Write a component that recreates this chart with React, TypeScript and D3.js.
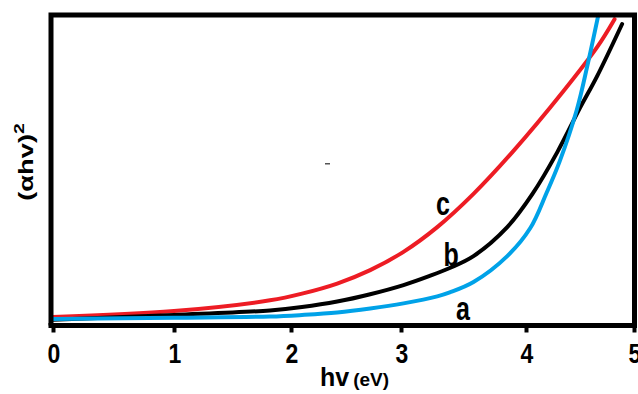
import { useEffect, useRef } from "react";
import * as d3 from "d3";

// hv ticks (eV)
const xTicks = [0, 1, 2, 3, 4, 5];

// curve a (blue)
const aX = [0, 1, 1.82, 2.1, 2.42, 2.72, 3.02, 3.29, 3.39, 3.58, 3.85, 4.04, 4.19, 4.31, 4.47, 4.57, 4.67];
const aY = [1.0, 1.4, 1.8, 2.3, 3.1, 4.4, 6.1, 8.4, 9.7, 13.1, 21.6, 30.8, 42.3, 52.5, 69.5, 84.3, 100.7];

// curve b (black)
const bX = [0, 1, 1.82, 2.1, 2.42, 2.72, 3.02, 3.23, 3.39, 3.58, 3.85, 4.06, 4.29, 4.5, 4.66, 4.89];
const bY = [0.7, 2.3, 3.8, 4.9, 6.7, 9.1, 12.1, 15.1, 17.7, 21.6, 31.1, 42.0, 55.7, 70.2, 80.7, 97.7];

// curve c (red)
const cX = [0, 1, 1.82, 2.1, 2.42, 2.72, 3.02, 3.29, 3.58, 3.9, 4.34, 4.66, 4.82];
const cY = [1.6, 3.6, 7.1, 9.3, 12.6, 17.0, 23.0, 31.1, 42.0, 56.1, 75.4, 90.2, 99.3];

const W = 638;
const H = 394;

const App = () => {
  const ref = useRef<SVGSVGElement | null>(null);

  useEffect(() => {
    const svg = d3.select(ref.current);
    svg.selectAll("*").remove();

    // the original axis is hand drawn, ticks are not evenly spaced
    const x = d3.scaleLinear().domain(xTicks).range([53, 174, 291, 401, 526, 634]);
    const y = d3.scaleLinear().domain([0, 100]).range([322, 17]);
    const axisY = 325.5;
    const font = "'Liberation Sans', Arial, sans-serif";

    svg.append("rect").attr("width", W).attr("height", H).attr("fill", "#fff");

    const line = d3
      .line<[number, number]>()
      .x((d) => x(d[0]))
      .y((d) => y(d[1]))
      .curve(d3.curveCatmullRom.alpha(0.5));

    const series = [
      { xs: cX, ys: cY, color: "#ed1c24" },
      { xs: bX, ys: bY, color: "#000" },
      { xs: aX, ys: aY, color: "#00a2e8" },
    ];

    const gLines = svg
      .append("g")
      .attr("fill", "none")
      .attr("stroke-width", 4)
      .attr("stroke-linecap", "round");
    series.forEach((s) => {
      gLines
        .append("path")
        .attr("d", line(s.xs.map((v, i) => [v, s.ys[i]] as [number, number])))
        .attr("stroke", s.color);
    });

    // frame
    svg
      .append("path")
      .attr("d", `M51,${axisY}V15H634.5V${axisY}`)
      .attr("fill", "none")
      .attr("stroke", "#000")
      .attr("stroke-width", 5);

    // bottom axis
    const gx = svg.append("g").attr("transform", `translate(0,${axisY})`);
    gx.call(d3.axisBottom(x).tickValues(xTicks).tickSize(7).tickFormat(d3.format("d")));
    gx.select(".domain").attr("stroke-width", 5).attr("d", "M48.5,0H637");
    gx.selectAll(".tick line").attr("stroke-width", 4);
    gx.selectAll(".tick text")
      .attr("y", 0)
      .attr("dy", 0)
      .attr("transform", "translate(0.5,37) scale(1,1.22)")
      .attr("font-family", font)
      .attr("font-weight", "bold")
      .attr("font-size", 23)
      .attr("fill", "#000");

    // x label
    const xl = svg
      .append("text")
      .attr("x", 320)
      .attr("y", 386)
      .attr("font-family", font)
      .attr("font-weight", "bold")
      .attr("fill", "#000");
    xl.append("tspan").attr("font-size", 25).text("hv");
    xl.append("tspan").attr("font-size", 19).attr("dx", 4).text("(eV)");

    // y label (stretched along its length like the source image)
    const yl = svg
      .append("text")
      .attr("transform", "translate(33,162) scale(1,1.3) rotate(-90)")
      .attr("text-anchor", "middle")
      .attr("font-family", font)
      .attr("font-weight", "bold")
      .attr("font-size", 21)
      .attr("fill", "#000");
    yl.append("tspan").text("(αhv)");
    yl.append("tspan").attr("font-size", 15).attr("dy", -9).text("2");

    // curve labels
    const labels = [
      { t: "c", px: 3.28, py: 35 },
      { t: "b", px: 3.34, py: 18.5 },
      { t: "a", px: 3.44, py: 0.7 },
    ];
    svg
      .append("g")
      .selectAll("text")
      .data(labels)
      .join("text")
      .attr("transform", (d) => `translate(${x(d.px)},${y(d.py)}) scale(1,1.3)`)
      .attr("font-family", font)
      .attr("font-weight", "bold")
      .attr("font-size", 25)
      .attr("fill", "#000")
      .text((d) => d.t);

    // small stray mark in the original
    svg
      .append("rect")
      .attr("x", 325)
      .attr("y", 163)
      .attr("width", 5)
      .attr("height", 1.5)
      .attr("fill", "#555");
  }, []);

  return (
    <svg
      ref={ref}
      width={W}
      height={H}
      style={{ position: "absolute", left: 0, top: 0 }}
    />
  );
};

export default App;
